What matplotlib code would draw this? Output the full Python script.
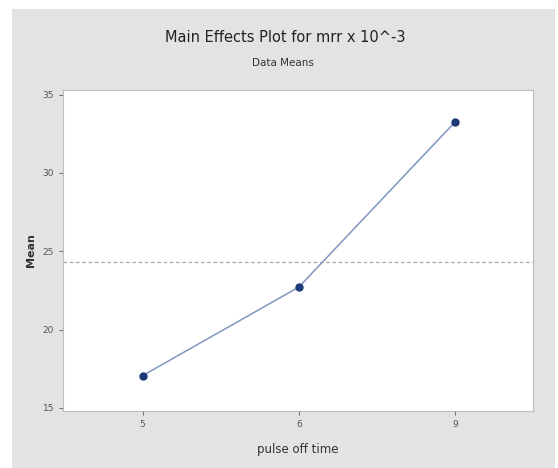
import matplotlib.pyplot as plt
from matplotlib.patches import Rectangle

# valeurs
niveaux = ['5', '6', '9']
moyennes = [17.06, 22.71, 33.25]
y_ticks = [15, 20, 25, 30, 35]
moyenne_globale = sum(moyennes) / len(moyennes)

W, H = 558, 468
fig = plt.figure(figsize=(W / 100, H / 100), dpi=100)
fig.patch.set_facecolor('white')

# fond gris façon Minitab (bord blanc en haut et à gauche)
fig.patches.append(Rectangle((12 / W, 0), (W - 15) / W, (H - 9) / H,
                             transform=fig.transFigure, facecolor='#e3e3e3',
                             edgecolor='none', zorder=-10))

ax = fig.add_axes([63 / W, 1 - 411 / H, 470 / W, 321 / H])
ax.set_facecolor('white')

x = list(range(len(niveaux)))
ax.plot(x, moyennes, color='#8096bf', lw=1.1, zorder=2)
ax.plot(x, moyennes, 'o', color='#1c3a78', ms=5, zorder=3)
ax.axhline(moyenne_globale, color='#a8a8a8', lw=0.9, ls=(0, (3, 2)), zorder=1)

ax.set_xlim(-0.51, 2.5)
ax.set_ylim(14.8, 35.3)
ax.set_xticks(x)
ax.set_xticklabels(niveaux)
ax.set_yticks(y_ticks)
ax.tick_params(labelsize=6.5, colors='#555555', length=3, width=0.6)

for s in ax.spines.values():
    s.set_color('#bdbdbd')
    s.set_linewidth(0.8)

ax.set_ylabel('Mean', fontsize=8, fontweight='bold', color='#333333', labelpad=5)
ax.set_xlabel('pulse off time', fontsize=8.5, color='#333333', labelpad=10)

fig.text(285 / W, 1 - 37 / H, 'Main Effects Plot for mrr x 10^-3', ha='center',
         va='center', fontsize=10.5, color='#222222')
fig.text(283 / W, 1 - 63 / H, 'Data Means', ha='center', va='center',
         fontsize=7.5, color='#333333')

plt.savefig('out.png', dpi=100)
